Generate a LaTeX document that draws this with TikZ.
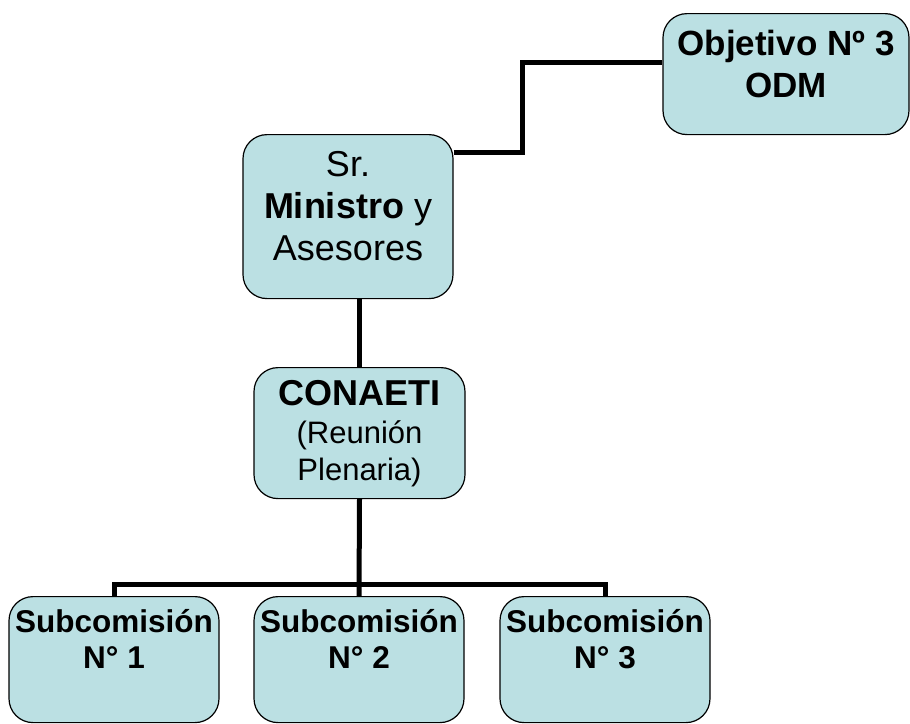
\documentclass[tikz,border=0pt]{standalone}
\usepackage{fontspec}
\setmainfont{Liberation Sans}
\definecolor{boxfill}{RGB}{187,224,227}

\begin{document}
\begin{tikzpicture}[x=1pt,y=-1pt,
    box/.style={draw=black,line width=1.2pt,fill=boxfill,rounded corners=24pt,
        align=center,inner xsep=0pt,inner ysep=0pt,anchor=north,minimum width=210pt},
    link/.style={line width=5pt}]
    \useasboundingbox (0,0) rectangle (910,723);
    % boxes
    \node[box,minimum width=246pt,text height=84pt,text depth=37pt,font=\fontsize{35}{42}\selectfont\bfseries] (obj) at (786,13) {Objetivo Nº 3\\ODM};
    \node[box,text height=126pt,text depth=38pt,font=\fontsize{36}{42}\selectfont] (min) at (348,134) {Sr.\\\textbf{Ministro} y\\Asesores};
    \node[box,minimum width=211pt,text height=113pt,text depth=18pt,font=\fontsize{31}{37.5}\selectfont] (con) at (359.5,367) {{\fontsize{36}{37.5}\selectfont\bfseries CONAETI}\\(Reunión\\Plenaria)};
    \node[box,text height=72pt,text depth=54pt,font=\fontsize{31.5}{36}\selectfont\bfseries] (sub1) at (114,596) {Subcomisión\\N° 1};
    \node[box,text height=72pt,text depth=54pt,font=\fontsize{31.5}{36}\selectfont\bfseries] (sub2) at (359,596) {Subcomisión\\N° 2};
    \node[box,text height=72pt,text depth=54pt,font=\fontsize{31.5}{36}\selectfont\bfseries] (sub3) at (605,596) {Subcomisión\\N° 3};
    % lines
    \draw[link] ([yshift=-18pt]min.north east) -| ([xshift=-140pt,yshift=11.5pt]obj.west) -- ([yshift=11.5pt]obj.west);
    \draw[link] (con.north) -- (con.north |- min.south);
    \draw[link] (con.south) -- (sub2.north);
    \draw[link] (sub1.north) -- ++(0,-12) -| (sub3.north);
\end{tikzpicture}
\end{document}
